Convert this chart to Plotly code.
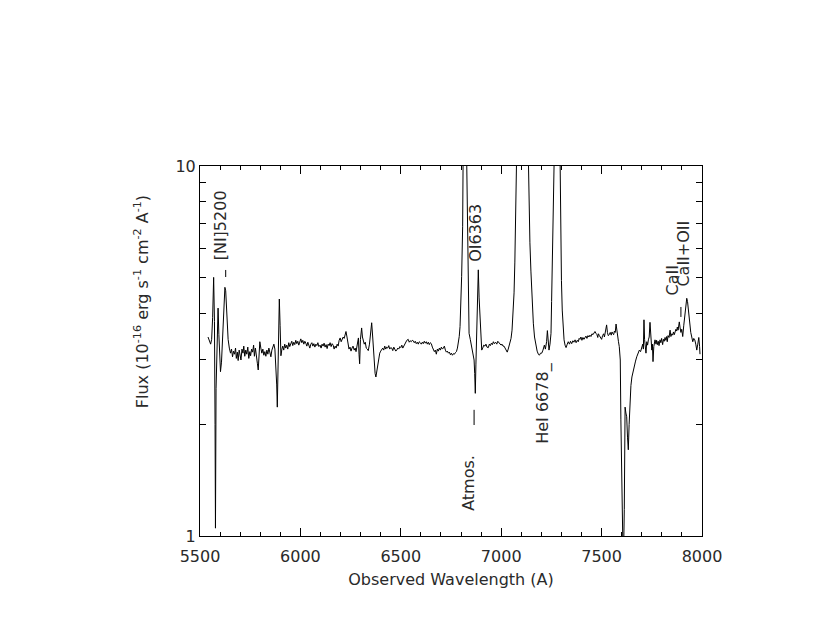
import plotly.graph_objects as go

# Spectrum (wavelength in A, flux in 1e-16 erg/s/cm2/A)
wavelength = [
    5540, 5547, 5553, 5558, 5563, 5568, 5572, 5575, 5577, 5580,
    5585, 5590, 5594, 5598, 5602, 5607, 5612, 5618, 5624, 5628,
    5633, 5640, 5646, 5652, 5657, 5662, 5667, 5672, 5677, 5681,
    5686, 5690, 5695, 5700, 5704, 5709, 5714, 5718, 5723, 5728,
    5733, 5738, 5743, 5748, 5752, 5757, 5762, 5767, 5771, 5776,
    5781, 5786, 5790, 5794, 5798, 5803, 5808, 5813, 5818, 5823,
    5828, 5833, 5838, 5843, 5848, 5853, 5858, 5863, 5868, 5873,
    5878, 5882, 5885, 5888, 5891, 5895, 5899, 5903, 5908, 5912,
    5917, 5922, 5927, 5932, 5937, 5942, 5947, 5952, 5957, 5962,
    5967, 5972, 5977, 5982, 5987, 5992, 5997, 6002, 6007, 6012,
    6017, 6022, 6027, 6032, 6037, 6042, 6047, 6052, 6057, 6062,
    6067, 6072, 6077, 6082, 6087, 6092, 6098, 6103, 6108, 6113,
    6118, 6123, 6128, 6133, 6138, 6143, 6148, 6153, 6158, 6163,
    6168, 6173, 6178, 6183, 6188, 6193, 6198, 6203, 6208, 6213,
    6218, 6223, 6227, 6232, 6237, 6242, 6247, 6252, 6257, 6262,
    6268, 6273, 6277, 6283, 6289, 6292, 6295, 6299, 6305, 6309,
    6313, 6318, 6323, 6328, 6333, 6338, 6344, 6349, 6355, 6360,
    6364, 6368, 6372, 6376, 6380, 6385, 6390, 6395, 6400, 6405,
    6410, 6415, 6420, 6425, 6430, 6435, 6440, 6445, 6450, 6455,
    6460, 6465, 6470, 6475, 6480, 6485, 6490, 6495, 6500, 6505,
    6510, 6515, 6520, 6525, 6530, 6537, 6542, 6547, 6552, 6557,
    6562, 6567, 6572, 6577, 6582, 6587, 6592, 6597, 6602, 6607,
    6612, 6617, 6622, 6627, 6632, 6637, 6642, 6647, 6652, 6657,
    6662, 6667, 6672, 6677, 6682, 6687, 6692, 6697, 6702, 6707,
    6712, 6717, 6722, 6727, 6732, 6737, 6742, 6747, 6752, 6757,
    6762, 6767, 6772, 6777, 6782, 6787, 6791, 6795, 6800, 6803,
    6808, 6812, 6816, 6821, 6828, 6833, 6840, 6846, 6853, 6859,
    6865, 6868, 6871, 6874, 6878, 6882, 6886, 6890, 6894, 6899,
    6903, 6908, 6913, 6919, 6924, 6929, 6936, 6941, 6946, 6951,
    6956, 6961, 6966, 6972, 6978, 6983, 6988, 6994, 6999, 7004,
    7009, 7014, 7019, 7024, 7030, 7035, 7040, 7044, 7049, 7054,
    7059, 7064, 7068, 7072, 7076, 7080, 7090, 7100, 7110, 7120,
    7128, 7135, 7139, 7143, 7148, 7152, 7156, 7160, 7166, 7173,
    7179, 7185, 7190, 7196, 7202, 7208, 7215, 7220, 7226, 7230,
    7234, 7238, 7243, 7248, 7251, 7254, 7258, 7262, 7270, 7278,
    7285, 7290, 7293, 7296, 7300, 7304, 7308, 7313, 7318, 7323,
    7329, 7334, 7340, 7345, 7351, 7357, 7362, 7368, 7373, 7379,
    7384, 7388, 7392, 7397, 7402, 7407, 7412, 7417, 7422, 7427,
    7432, 7437, 7442, 7447, 7452, 7457, 7462, 7467, 7472, 7477,
    7481, 7484, 7489, 7494, 7500, 7505, 7510, 7514, 7517, 7521,
    7525, 7529, 7533, 7538, 7543, 7548, 7552, 7555, 7560, 7564,
    7568, 7572, 7576, 7580, 7584, 7588, 7591, 7593, 7596, 7599,
    7601, 7608, 7613, 7617, 7621, 7625, 7629, 7633, 7637, 7641,
    7646, 7651, 7657, 7663, 7669, 7675, 7681, 7688, 7694, 7700,
    7705, 7708, 7711, 7714, 7717, 7721, 7725, 7729, 7733, 7737,
    7741, 7745, 7750, 7753, 7756, 7760, 7766, 7771, 7774, 7778,
    7782, 7786, 7791, 7795, 7799, 7804, 7808, 7812, 7816, 7820,
    7824, 7827, 7831, 7836, 7841, 7845, 7850, 7854, 7858, 7862,
    7866, 7870, 7874, 7877, 7881, 7884, 7887, 7891, 7895, 7899,
    7904, 7909, 7914, 7919, 7924, 7928, 7932, 7936, 7940, 7944,
    7949, 7954, 7959, 7964, 7969, 7974, 7979, 7984, 7988, 7990,
]

flux = [
    3.45, 3.38, 3.30, 3.40, 3.90, 5.00, 3.80, 2.00, 1.05, 2.50,
    3.60, 4.13, 3.50, 2.85, 2.78, 2.95, 3.40, 4.10, 4.70, 4.60,
    4.00, 3.40, 3.22, 3.12, 3.20, 3.05, 3.16, 3.10, 3.22, 3.02,
    3.14, 2.98, 3.18, 3.08, 2.99, 3.20, 3.12, 3.26, 3.06, 3.18,
    3.10, 3.24, 3.02, 3.15, 3.07, 3.20, 3.14, 3.28, 3.06, 3.22,
    3.10, 2.92, 2.81, 3.05, 3.35, 3.22, 3.12, 3.20, 3.08, 3.15,
    3.06, 3.18, 3.10, 3.22, 3.14, 3.05, 3.18, 3.26, 3.30, 3.20,
    2.90, 2.56, 2.23, 2.90, 3.90, 4.37, 3.70, 3.07, 3.20, 3.26,
    3.18, 3.30, 3.22, 3.28, 3.20, 3.33, 3.25, 3.30, 3.36, 3.27,
    3.34, 3.29, 3.38, 3.31, 3.36, 3.28, 3.35, 3.41, 3.33, 3.38,
    3.30, 3.36, 3.32, 3.26, 3.34, 3.29, 3.22, 3.30, 3.33, 3.26,
    3.31, 3.24, 3.30, 3.27, 3.33, 3.25, 3.28, 3.22, 3.30, 3.26,
    3.32, 3.24, 3.29, 3.21, 3.30, 3.27, 3.33, 3.25, 3.31, 3.28,
    3.20, 3.26, 3.22, 3.30, 3.26, 3.38, 3.43, 3.35, 3.40, 3.45,
    3.42, 3.50, 3.57, 3.45, 3.32, 3.20, 3.24, 3.16, 3.22, 3.26,
    3.18, 3.22, 3.15, 3.30, 3.43, 3.10, 2.92, 3.40, 3.65, 3.45,
    3.39, 3.30, 3.34, 3.22, 3.20, 3.17, 3.30, 3.55, 3.77, 3.45,
    3.12, 2.85, 2.75, 2.69, 2.78, 2.95, 3.05, 3.12, 3.16, 3.18,
    3.22, 3.18, 3.26, 3.20, 3.24, 3.22, 3.27, 3.20, 3.23, 3.22,
    3.17, 3.24, 3.20, 3.16, 3.18, 3.22, 3.20, 3.25, 3.23, 3.28,
    3.22, 3.26, 3.30, 3.32, 3.38, 3.40, 3.34, 3.37, 3.35, 3.38,
    3.37, 3.33, 3.36, 3.31, 3.34, 3.30, 3.35, 3.33, 3.30, 3.34,
    3.31, 3.36, 3.32, 3.35, 3.30, 3.34, 3.29, 3.33, 3.31, 3.24,
    3.20, 3.15, 3.18, 3.10, 3.20, 3.16, 3.22, 3.18, 3.24, 3.20,
    3.22, 3.26, 3.18, 3.14, 3.16, 3.12, 3.14, 3.09, 3.12, 3.08,
    3.11, 3.10, 3.13, 3.15, 3.22, 3.32, 3.46, 3.68, 4.30, 5.02,
    6.85, 12.0, 30.0, 18.0, 10.5, 5.57, 3.53, 3.40, 3.26, 3.12,
    2.99, 2.75, 2.43, 2.90, 3.53, 4.40, 5.24, 4.40, 3.84, 3.35,
    3.18, 3.22, 3.28, 3.26, 3.30, 3.24, 3.23, 3.30, 3.27, 3.32,
    3.29, 3.35, 3.31, 3.34, 3.30, 3.36, 3.33, 3.32, 3.28, 3.30,
    3.26, 3.26, 3.22, 3.18, 3.14, 3.20, 3.27, 3.31, 3.42, 3.60,
    3.95, 4.54, 5.50, 6.85, 8.50, 11.0, 25.0, 60.0, 45.0, 30.0,
    16.0, 10.5, 8.00, 6.20, 5.20, 4.54, 4.10, 3.76, 3.45, 3.28,
    3.16, 3.10, 3.08, 3.12, 3.12, 3.18, 3.28, 3.20, 3.35, 3.59,
    3.40, 3.18, 3.30, 3.53, 4.30, 5.57, 8.50, 14.0, 40.0, 30.0,
    45.0, 15.0, 10.5, 6.20, 4.90, 4.08, 3.65, 3.39, 3.28, 3.23,
    3.30, 3.35, 3.30, 3.36, 3.31, 3.37, 3.34, 3.39, 3.33, 3.38,
    3.35, 3.42, 3.40, 3.45, 3.38, 3.44, 3.40, 3.44, 3.47, 3.42,
    3.48, 3.45, 3.49, 3.46, 3.52, 3.50, 3.55, 3.57, 3.53, 3.50,
    3.44, 3.52, 3.48, 3.45, 3.40, 3.48, 3.52, 3.45, 3.53, 3.60,
    3.72, 3.55, 3.48, 3.50, 3.55, 3.49, 3.56, 3.53, 3.50, 3.58,
    3.55, 3.74, 3.55, 3.42, 3.35, 3.25, 3.10, 2.99, 2.06, 1.20,
    0.80, 0.80, 1.18, 2.23, 2.15, 2.10, 1.85, 1.71, 2.00, 2.33,
    2.55, 2.69, 2.80, 2.87, 2.97, 3.05, 3.12, 3.18, 3.15, 3.22,
    3.30, 3.20, 3.84, 3.40, 3.25, 3.12, 3.35, 3.28, 3.39, 3.45,
    3.78, 3.40, 3.18, 3.30, 2.96, 3.25, 3.39, 3.30, 3.38, 3.29,
    3.36, 3.27, 3.39, 3.33, 3.42, 3.29, 3.40, 3.36, 3.44, 3.38,
    3.46, 3.35, 3.48, 3.44, 3.60, 3.46, 3.52, 3.49, 3.56, 3.50,
    3.55, 3.62, 3.58, 3.67, 3.60, 3.70, 3.79, 3.65, 3.55, 3.62,
    3.46, 3.70, 3.99, 4.20, 4.39, 4.30, 4.08, 3.85, 3.70, 3.55,
    3.45, 3.35, 3.42, 3.39, 3.30, 3.18, 3.30, 3.44, 3.25, 3.10,
]

x_ticks = [5500, 6000, 6500, 7000, 7500, 8000]
y_ticks = [1, 2, 3, 4, 5, 6, 7, 8, 9, 10]
y_ticktext = ["1", "", "", "", "", "", "", "", "", "10"]

FONT = "DejaVu Sans"
TXT = "#2a2a2a"

fig = go.Figure()

fig.add_trace(go.Scatter(
    x=wavelength,
    y=flux,
    mode="lines",
    line=dict(color="black", width=1),
    showlegend=False,
    hoverinfo="skip",
))

# line identifications (rotated, as in the original)
labels = [
    ("[NI]5200", 5602, 0.841),
    ("OI6363", 6872, 0.818),
    ("Atmos.", 6837, 0.145),
    ("HeI 6678_", 7208, 0.360),
    ("CaII", 7853, 0.692),
    ("CaII+OII", 7908, 0.762),
]
for text, lx, ly in labels:
    fig.add_annotation(
        x=lx, y=ly, xref="x", yref="paper", text=text, textangle=-90,
        showarrow=False, xanchor="center", yanchor="middle",
        font=dict(family=FONT, size=16, color=TXT),
    )

# small marker dashes next to the labels
for mx, y0, y1 in [(5628, 0.700, 0.719), (6865, 0.300, 0.341), (7895, 0.592, 0.619)]:
    fig.add_shape(type="line", xref="x", yref="paper", x0=mx, x1=mx, y0=y0, y1=y1,
                  line=dict(color="black", width=1))

fig.add_annotation(
    x=-0.1175, y=0.632, xref="paper", yref="paper",
    text="Flux (10<sup>-16</sup> erg s<sup>-1</sup> cm<sup>-2</sup> A<sup>-1</sup>)",
    textangle=-90, showarrow=False, xanchor="center", yanchor="middle",
    font=dict(family=FONT, size=16, color=TXT),
)

# the page body adds an 8px offset, so margins are shifted to compensate
fig.update_layout(
    width=830, height=642,
    margin=dict(l=192, r=136, t=158, b=114),
    paper_bgcolor="white", plot_bgcolor="white",
    font=dict(family=FONT, size=16, color=TXT),
    xaxis=dict(
        range=[5500, 8000], tickvals=x_ticks, ticks="inside", ticklen=8,
        tickcolor="black", linecolor="black", linewidth=1, mirror="ticks",
        showgrid=False, zeroline=False, ticklabelstandoff=6,
        minor=dict(dtick=100, ticks="inside", ticklen=4, tickcolor="black", showgrid=False),
        title=dict(text="Observed Wavelength (A)", standoff=8,
                   font=dict(family=FONT, size=16, color=TXT)),
    ),
    yaxis=dict(
        type="log", range=[0, 1], tickvals=y_ticks, ticktext=y_ticktext,
        ticks="inside", ticklen=6, tickcolor="black", linecolor="black",
        linewidth=1, mirror="ticks", showgrid=False, zeroline=False,
    ),
)

fig.write_html("out.html")
